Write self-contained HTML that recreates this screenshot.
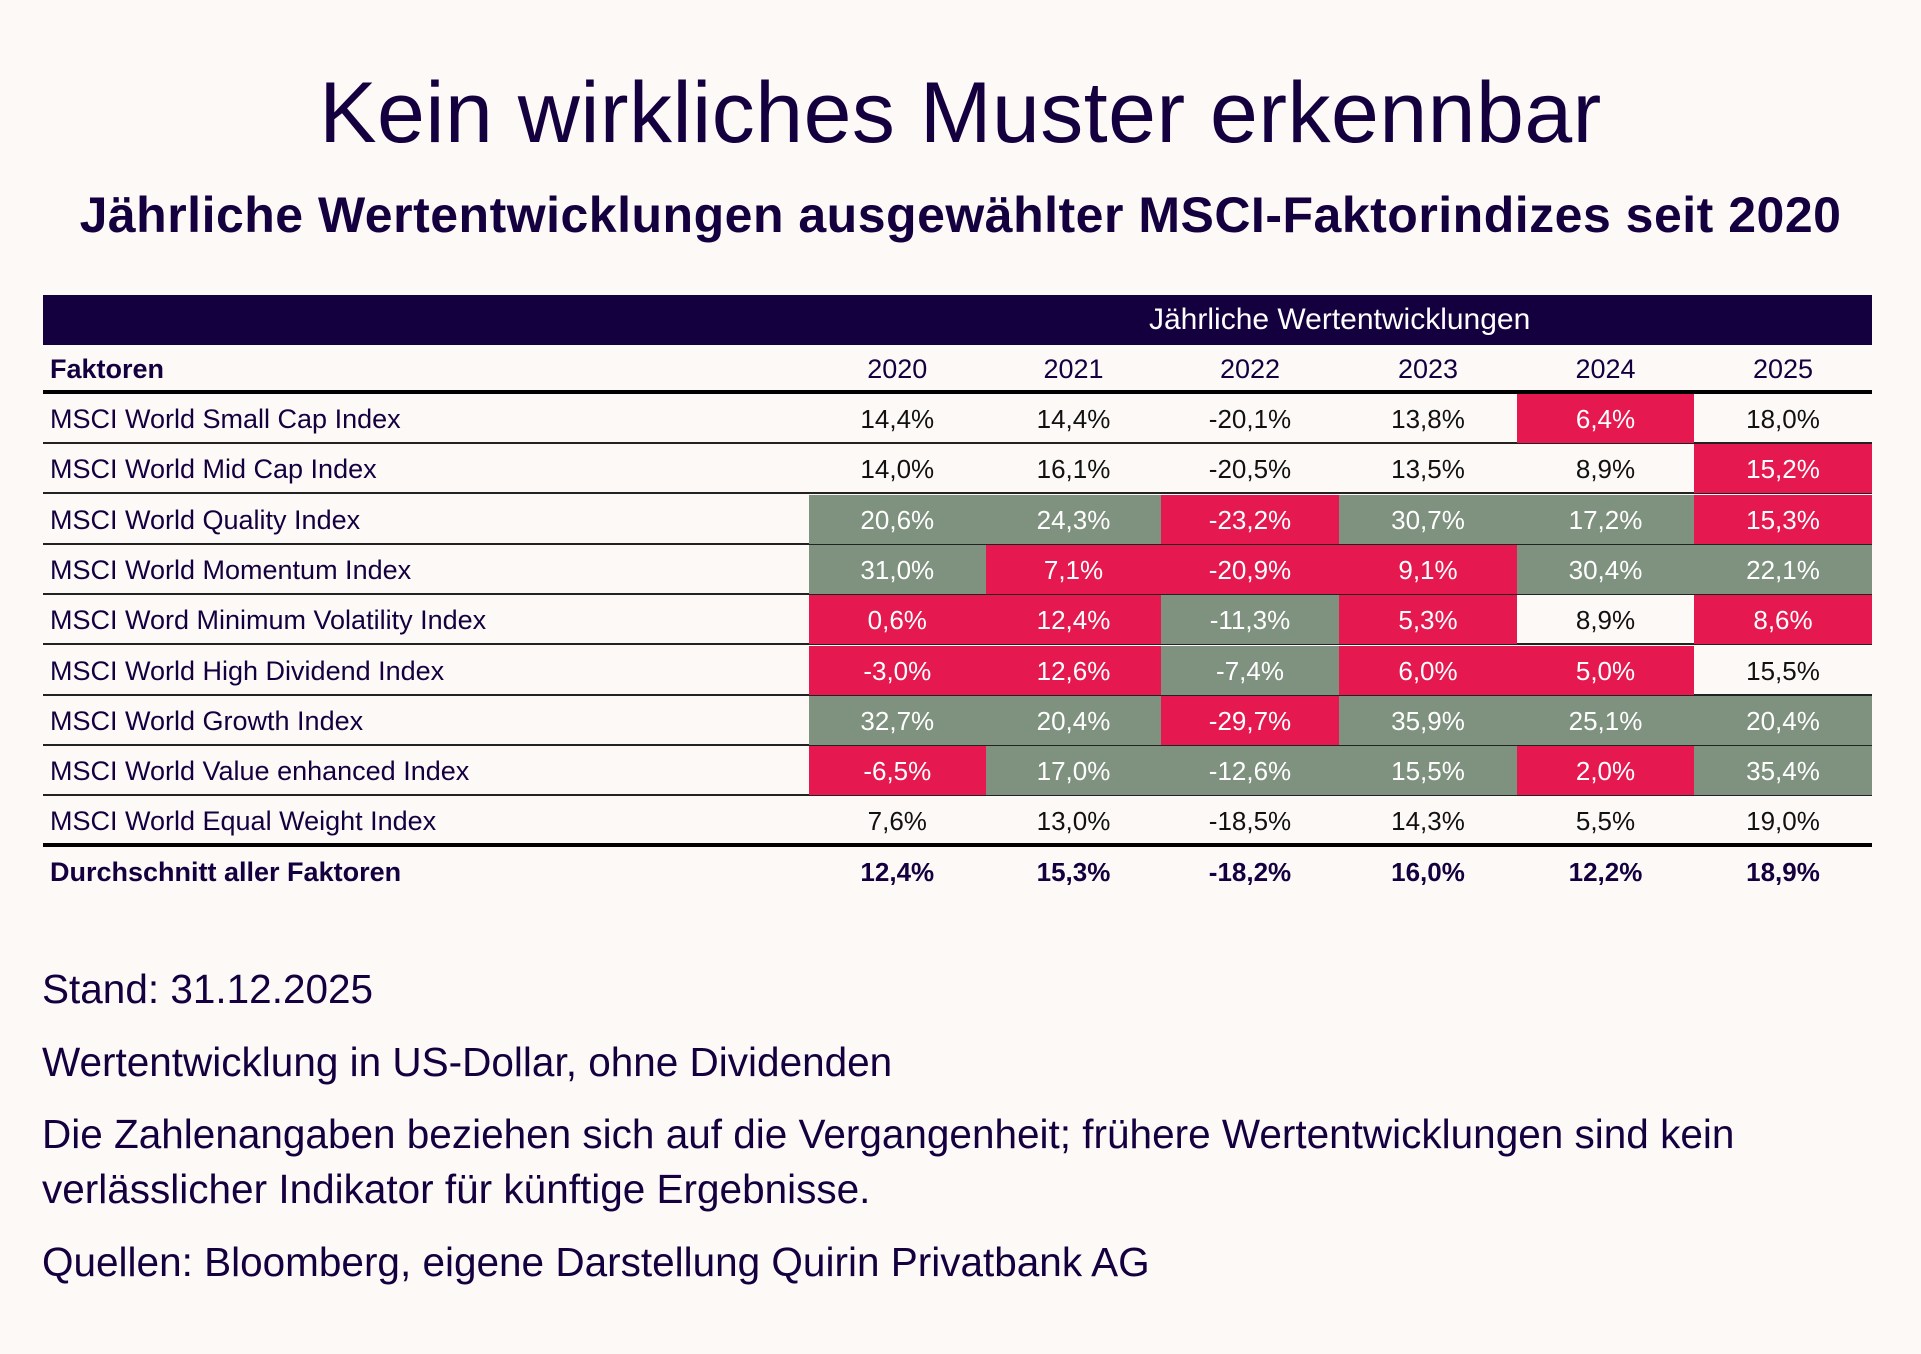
<!DOCTYPE html>
<html><head><meta charset="utf-8"><style>
*{margin:0;padding:0;box-sizing:border-box}
body{width:1921px;height:1354px;background:#fcf9f7;font-family:"Liberation Sans",sans-serif;color:#15003f;position:relative;overflow:hidden}
.t1{position:absolute;left:0;width:1921px;top:64px;text-align:center;font-size:86px;font-weight:normal;letter-spacing:0.5px}
.t2{position:absolute;left:0;width:1921px;top:186px;text-align:center;font-size:50px;font-weight:bold;letter-spacing:0.5px}
.bar{position:absolute;left:43px;top:295px;width:1829px;height:50px;background:#15003f}
.bar span{position:absolute;left:1106px;top:8px;color:#fff;font-size:30px}
.hdr{position:absolute;top:346px;height:47px;font-size:27px;font-weight:bold;line-height:47px}
.row{position:absolute;left:43px;width:1829px;height:50px;border-bottom:2px solid #222}
.c{position:absolute;top:1px;height:48px;line-height:48px;font-size:26px;text-align:center;color:#111}
.l{left:7px;color:#15003f;text-align:left;font-size:27px}
.G{background:#7f917f;color:#fff;top:0;height:49px;line-height:50px}
.R{background:#e5194f;color:#fff;top:0;height:49px;line-height:50px}
.foot{position:absolute;left:42px;font-size:40.5px;color:#15003f}
</style></head><body>
<div class="t1">Kein wirkliches Muster erkennbar</div>
<div class="t2">Jährliche Wertentwicklungen ausgewählter MSCI-Faktorindizes seit 2020</div>
<div class="bar"><span>Jährliche Wertentwicklungen</span></div>
<div class="hdr" style="left:50px">Faktoren</div>
<div id="hy"></div>
<div style="position:absolute;left:43px;top:390px;width:1829px;height:4px;background:#000"></div>
<div id="tb"></div>
<div style="position:absolute;left:43px;top:843px;width:1829px;height:4px;background:#000"></div>
<div class="foot" style="top:966px">Stand: 31.12.2025</div>
<div class="foot" style="top:1039px">Wertentwicklung in US-Dollar, ohne Dividenden</div>
<div class="foot" style="top:1111px">Die Zahlenangaben beziehen sich auf die Vergangenheit; frühere Wertentwicklungen sind kein</div>
<div class="foot" style="top:1166px">verlässlicher Indikator für künftige Ergebnisse.</div>
<div class="foot" style="top:1239px">Quellen: Bloomberg, eigene Darstellung Quirin Privatbank AG</div>
<script>
var X=[765.6,943,1118,1296,1474,1651,1829];
var yrs=["2020","2021","2022","2023","2024","2025"],h="";
for(var i=0;i<6;i++)h+='<div class="hdr" style="left:'+(43+X[i])+'px;width:'+(X[i+1]-X[i])+'px;text-align:center;font-weight:normal">'+yrs[i]+'</div>';
document.getElementById("hy").outerHTML=h;
var rows=[
["MSCI World Small Cap Index","WWWWRW",["14,4%","14,4%","-20,1%","13,8%","6,4%","18,0%"]],
["MSCI World Mid Cap Index","WWWWWR",["14,0%","16,1%","-20,5%","13,5%","8,9%","15,2%"]],
["MSCI World Quality Index","GGRGGR",["20,6%","24,3%","-23,2%","30,7%","17,2%","15,3%"]],
["MSCI World Momentum Index","GRRRGG",["31,0%","7,1%","-20,9%","9,1%","30,4%","22,1%"]],
["MSCI Word Minimum Volatility Index","RRGRWR",["0,6%","12,4%","-11,3%","5,3%","8,9%","8,6%"]],
["MSCI World High Dividend Index","RRGRRW",["-3,0%","12,6%","-7,4%","6,0%","5,0%","15,5%"]],
["MSCI World Growth Index","GGRGGG",["32,7%","20,4%","-29,7%","35,9%","25,1%","20,4%"]],
["MSCI World Value enhanced Index","RGGGRG",["-6,5%","17,0%","-12,6%","15,5%","2,0%","35,4%"]],
["MSCI World Equal Weight Index","WWWWWW",["7,6%","13,0%","-18,5%","14,3%","5,5%","19,0%"]]];
var s="";
for(var r=0;r<rows.length;r++){var yy=(394+r*50.3).toFixed(1);
s+='<div class="row" style="top:'+yy+'px;'+(r==8?'border-bottom:none':'')+'"><div class="c l">'+rows[r][0]+'</div>';
for(var i=0;i<6;i++){var k=rows[r][1][i];s+='<div class="c '+(k=="W"?"":k)+'" style="left:'+X[i]+'px;width:'+(X[i+1]-X[i]).toFixed(1)+'px">'+rows[r][2][i]+'</div>';}
s+='</div>';}
var av=["12,4%","15,3%","-18,2%","16,0%","12,2%","18,9%"];
s+='<div class="row" style="top:847px;border:none"><div class="c l" style="font-weight:bold">Durchschnitt aller Faktoren</div>';
for(var i=0;i<6;i++)s+='<div class="c" style="left:'+X[i]+'px;width:'+(X[i+1]-X[i]).toFixed(1)+'px;font-weight:bold;color:#15003f">'+av[i]+'</div>';
s+='</div>';
document.getElementById("tb").outerHTML=s;
</script>
</body></html>
